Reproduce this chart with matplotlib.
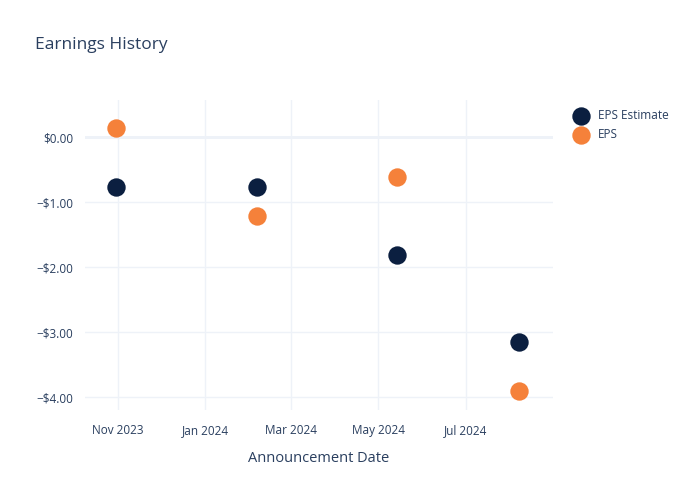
import matplotlib
matplotlib.use('Agg')
import matplotlib.pyplot as plt
import pandas as pd

# Данные
dates = pd.to_datetime(['2023-10-31', '2024-02-06', '2024-05-14', '2024-08-07'])
eps_estimate = [-0.77, -0.77, -1.81, -3.16]
eps_actual = [0.14, -1.21, -0.61, -3.91]
yticks = [0, -1, -2, -3, -4]
ytick_labels = ['$0.00', '\u2212$1.00', '\u2212$2.00', '\u2212$3.00', '\u2212$4.00']
xticks = pd.to_datetime(['2023-11-01', '2024-01-01', '2024-03-01', '2024-05-01', '2024-07-01'])
xtick_labels = ['Nov 2023', 'Jan 2024', 'Mar 2024', 'May 2024', 'Jul 2024']

text_color = '#2a3f5f'
grid_color = '#EEF2F8'
navy = '#0b1f40'
orange = '#f5813a'

plt.rcParams['font.family'] = ['Open Sans', 'DejaVu Sans']

fig = plt.figure(figsize=(7, 5), dpi=100)
ax = fig.add_axes([0.121, 0.18, 0.669, 0.62])

ax.scatter(dates, eps_estimate, s=175, color=navy, label='EPS Estimate', zorder=3, linewidths=0)
ax.scatter(dates, eps_actual, s=175, color=orange, label='EPS', zorder=3, linewidths=0)

ax.set_xlim(pd.Timestamp('2023-10-09'), pd.Timestamp('2024-08-31'))
ax.set_ylim(-4.2, 0.57)
ax.set_xticks(xticks)
ax.set_xticklabels(xtick_labels)
ax.set_yticks(yticks)
ax.set_yticklabels(ytick_labels)

ax.grid(color=grid_color, linewidth=1, zorder=0)
ax.axhline(0, color=grid_color, linewidth=2, zorder=1)
for s in ax.spines.values():
    s.set_visible(False)
ax.tick_params(length=0, labelsize=8.5, colors=text_color, pad=8)
ax.tick_params(axis='x', pad=10)

ax.set_xlabel('Announcement Date', fontsize=10.5, color=text_color, labelpad=10)
fig.text(0.05, 0.91, 'Earnings History', fontsize=12.5, color=text_color, va='center')

leg = ax.legend(loc='upper left', bbox_to_anchor=(1.025, 0.985), frameon=False,
                fontsize=8.5, handletextpad=0.4, labelspacing=0.5, borderaxespad=0)
for t in leg.get_texts():
    t.set_color(text_color)

fig.savefig('out.png', dpi=100)
